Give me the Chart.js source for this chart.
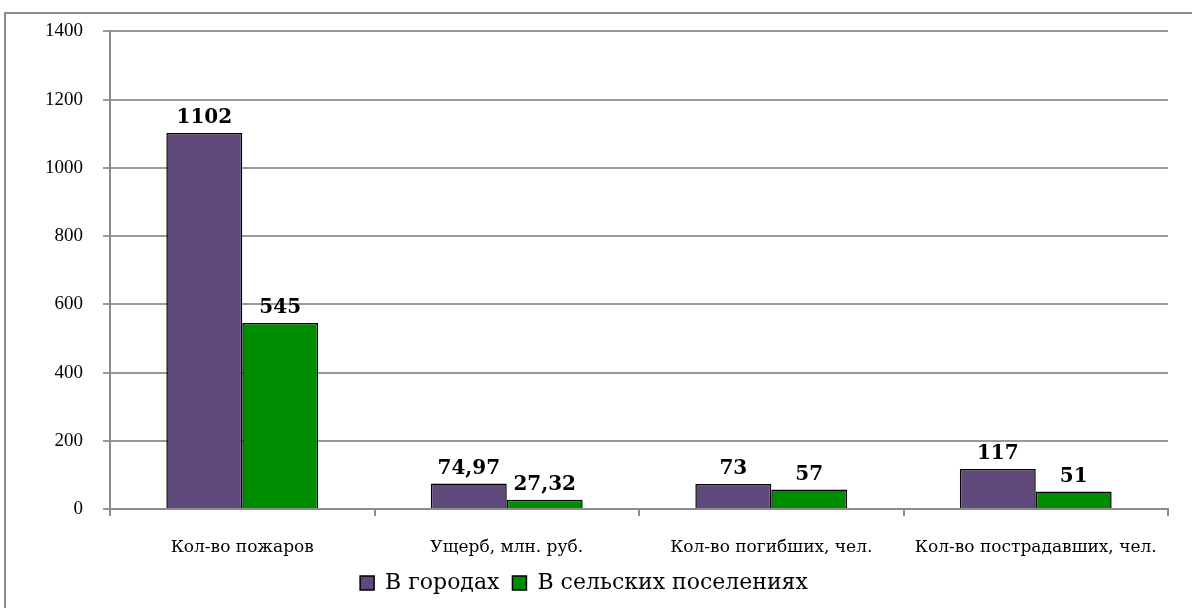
<!DOCTYPE html>
<html>
<head>
<meta charset="utf-8">
<script src="https://cdn.jsdelivr.net/npm/chart.js@4/dist/chart.umd.min.js"></script>
<style>
  html, body { margin: 0; padding: 0; background: #fff; }
  #wrap { position: relative; width: 1192px; height: 608px; overflow: hidden; }
  #frame { position: absolute; left: 4px; top: 12px; width: 1300px; height: 700px;
           border-left: 2px solid #8c8c8c; border-top: 2px solid #8c8c8c; }
  canvas { position: absolute; left: 0; top: 0; }
</style>
</head>
<body>
<div id="wrap">
  <div id="frame"></div>
  <canvas id="chart" width="1192" height="608"></canvas>
</div>
<script>
var categories = ['Кол-во пожаров', 'Ущерб, млн. руб.', 'Кол-во погибших, чел.', 'Кол-во пострадавших, чел.'];
var cityValues = [1102, 74.97, 73, 117];
var ruralValues = [545, 27.32, 57, 51];
var cityLabel = 'В городах';
var ruralLabel = 'В сельских поселениях';

// labels above the bars, like in Excel
var barLabels = {
  id: 'barLabels',
  afterDatasetsDraw: function(chart) {
    var ctx = chart.ctx;
    ctx.save();
    ctx.font = 'bold 20px "DejaVu Serif"';
    ctx.fillStyle = '#000';
    ctx.textAlign = 'center';
    ctx.textBaseline = 'bottom';
    chart.data.datasets.forEach(function(ds, i) {
      chart.getDatasetMeta(i).data.forEach(function(bar, j) {
        var txt = String(ds.data[j]).replace('.', ',');
        ctx.fillText(txt, bar.x, bar.y - 5);
      });
    });
    ctx.restore();
  }
};

new Chart(document.getElementById('chart'), {
  type: 'bar',
  data: {
    labels: categories,
    datasets: [
      { label: cityLabel, data: cityValues, backgroundColor: '#604a7b', borderColor: '#000', borderWidth: 1.5 },
      { label: ruralLabel, data: ruralValues, backgroundColor: '#008c00', borderColor: '#000', borderWidth: 1.5 }
    ]
  },
  options: {
    responsive: false,
    animation: false,
    layout: { padding: { left: 0, right: 24, top: 24, bottom: 4 } },
    datasets: { bar: { categoryPercentage: 0.574, barPercentage: 1 } },
    scales: {
      x: {
        afterFit: function(s) { s.height = 50; },
        grid: { offset: true, drawOnChartArea: false, color: '#8c8c8c', tickLength: 7, lineWidth: 2 },
        border: { color: '#8c8c8c', width: 2 },
        ticks: { color: '#000', font: { family: '"DejaVu Serif"', size: 17 }, padding: 21 }
      },
      y: {
        min: 0, max: 1400,
        afterFit: function(s) { s.width = 110; },
        grid: { color: '#9a9a9a', lineWidth: 2, tickLength: 7 },
        border: { color: '#8c8c8c', width: 2 },
        ticks: {
          stepSize: 200, color: '#000', font: { family: '"Liberation Serif"', size: 19 }, padding: 20,
          callback: function(v) { return String(v); }
        }
      }
    },
    plugins: {
      legend: {
        position: 'bottom',
        labels: {
          color: '#000',
          font: { family: '"DejaVu Serif"', size: 22 },
          boxWidth: 14, boxHeight: 14, padding: 13,
          generateLabels: function(chart) {
            return chart.data.datasets.map(function(ds, i) {
              return { text: ds.label, fillStyle: ds.backgroundColor, strokeStyle: '#000', lineWidth: 1.5, datasetIndex: i, fontColor: '#000' };
            });
          }
        }
      },
      tooltip: { enabled: false }
    }
  },
  plugins: [barLabels]
});
</script>
</body>
</html>
